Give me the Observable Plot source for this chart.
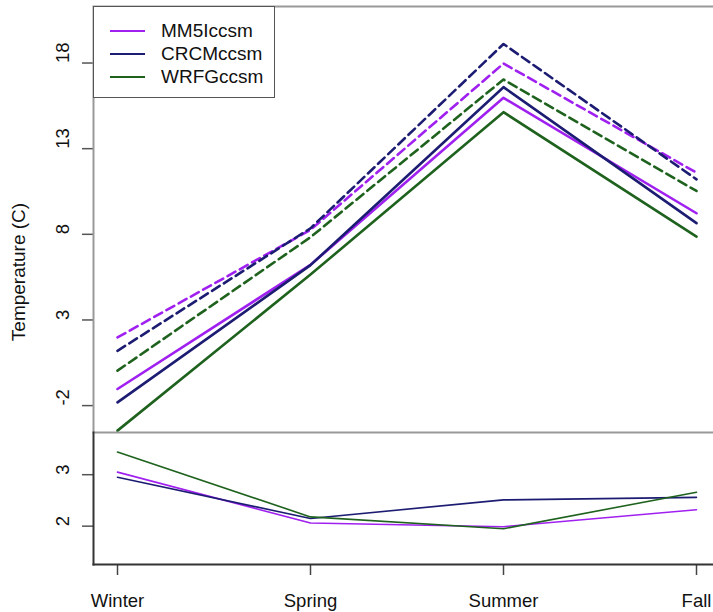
<!DOCTYPE html>
<html>
<head>
<meta charset="utf-8">
<script src="https://cdn.jsdelivr.net/npm/d3@7"></script>
<script src="https://cdn.jsdelivr.net/npm/@observablehq/plot@0.6"></script>
<style>
  html, body { margin: 0; padding: 0; background: #fff; overflow: hidden; }
  #wrap { position: relative; width: 713px; height: 612px; overflow: hidden; font-family: "Liberation Sans", Arial, sans-serif; color: #111; }
  #wrap svg { display: block; }
  #ytitle { position: absolute; left: 18.5px; top: 272px; transform: translate(-50%, -50%) rotate(-90deg); font-size: 19px; white-space: nowrap; }
  #legend { position: absolute; left: 93px; top: 6px; width: 182px; height: 92px; border: 1.5px solid #555; background: #fff; box-sizing: border-box; }
  .lrow { position: absolute; left: 0; height: 22px; display: flex; align-items: center; font-size: 19px; }
  .lrow .sw { width: 35px; height: 0; border-top: 2.5px solid; margin-left: 16px; margin-right: 16px; }
</style>
</head>
<body>
<div id="wrap"></div>
<script>
// ---- data ----
const seasons = ["Winter", "Spring", "Summer", "Fall"];
const models = ["MM5Iccsm", "CRCMccsm", "WRFGccsm"];
const colors = ["#A020F0", "#1c1c72", "#1e621e"];

// historical (solid lines)
const histMM5  = [-1.03, 6.22, 15.97, 9.23];
const histCRCM = [-1.81, 6.20, 16.59, 8.65];
const histWRFG = [-3.46, 5.65, 15.13, 7.87];

// future (dashed lines)
const futMM5  = [1.98, 8.26, 17.97, 11.60];
const futCRCM = [1.20, 8.35, 19.11, 11.21];
const futWRFG = [0.04, 7.83, 17.04, 10.53];

// change (lower panel)
const diffMM5  = [3.05, 2.06, 1.99, 2.32];
const diffCRCM = [2.95, 2.15, 2.51, 2.56];
const diffWRFG = [3.44, 2.18, 1.95, 2.66];

const yTicksTop = [-2, 3, 8, 13, 18];
const yTicksBottom = [2, 3];
const yLabel = "Temperature (C)";

// ---- build tables ----
function rows(seriesList) {
  const out = [];
  seriesList.forEach((vals, i) => vals.forEach((v, j) => out.push({model: models[i], season: seasons[j], value: v})));
  return out;
}
const histRows = rows([histMM5, histCRCM, histWRFG]);
const futRows = rows([futMM5, futCRCM, futWRFG]);
const diffRows = rows([diffMM5, diffCRCM, diffWRFG]);

const font = '"Liberation Sans", Arial, sans-serif';
const baseStyle = {fontFamily: font, fontSize: "18.5px", maxWidth: "none", background: "transparent", overflow: "visible", color: "#111"};
const xScale = {type: "point", domain: seasons, padding: 0.12, axis: null};
const colorScale = {domain: models, range: colors};

const topPlot = Plot.plot({
  width: 720, height: 432,
  marginLeft: 93, marginRight: 0, marginTop: 6, marginBottom: 0,
  style: baseStyle,
  x: xScale,
  y: {domain: [-3.57, 21.3], axis: null},
  color: colorScale,
  marks: [
    Plot.axisY(yTicksTop, {label: null, tickSize: 11, tickFormat: () => "", stroke: "#555", strokeWidth: 1.5}),
    Plot.text(yTicksTop, {y: d => d, text: d => String(d), frameAnchor: "left", dx: -30, rotate: -90, fontSize: 18.5, fill: "#111"}),
    Plot.line(histRows, {x: "season", y: "value", z: "model", stroke: "model", strokeWidth: 2.6}),
    Plot.line(futRows, {x: "season", y: "value", z: "model", stroke: "model", strokeWidth: 2.6, strokeDasharray: "9,5"}),
    Plot.frame({stroke: "#999", strokeWidth: 2})
  ]
});

const bottomPlot = Plot.plot({
  width: 720, height: 180,
  marginLeft: 93, marginRight: 0, marginTop: 0, marginBottom: 48,
  style: baseStyle,
  x: xScale,
  y: {domain: [1.255, 3.82], axis: null},
  color: colorScale,
  marks: [
    Plot.axisY(yTicksBottom, {label: null, tickSize: 11, tickFormat: () => "", stroke: "#555", strokeWidth: 1.5}),
    Plot.text(yTicksBottom, {y: d => d, text: d => String(d), frameAnchor: "left", dx: -30, rotate: -90, fontSize: 18.5, fill: "#111"}),
    Plot.axisX(seasons, {label: null, tickSize: 11, tickPadding: 18, stroke: "#444", strokeWidth: 1.5, fontSize: 18.5, fill: "#111"}),
    Plot.line(diffRows, {x: "season", y: "value", z: "model", stroke: "model", strokeWidth: 1.6}),
    Plot.frame({anchor: "left", stroke: "#333", strokeWidth: 2}),
    Plot.frame({anchor: "bottom", stroke: "#333", strokeWidth: 2})
  ]
});

const wrap = document.getElementById("wrap");
wrap.appendChild(topPlot);
wrap.appendChild(bottomPlot);

const yt = document.createElement("div");
yt.id = "ytitle";
yt.textContent = yLabel;
wrap.appendChild(yt);

const legend = document.createElement("div");
legend.id = "legend";
models.forEach((m, i) => {
  const r = document.createElement("div");
  r.className = "lrow";
  r.style.top = (13 + i * 23) + "px";
  const sw = document.createElement("span");
  sw.className = "sw";
  sw.style.borderTopColor = colors[i];
  const t = document.createElement("span");
  t.textContent = m;
  r.appendChild(sw);
  r.appendChild(t);
  legend.appendChild(r);
});
wrap.appendChild(legend);
</script>
</body>
</html>
